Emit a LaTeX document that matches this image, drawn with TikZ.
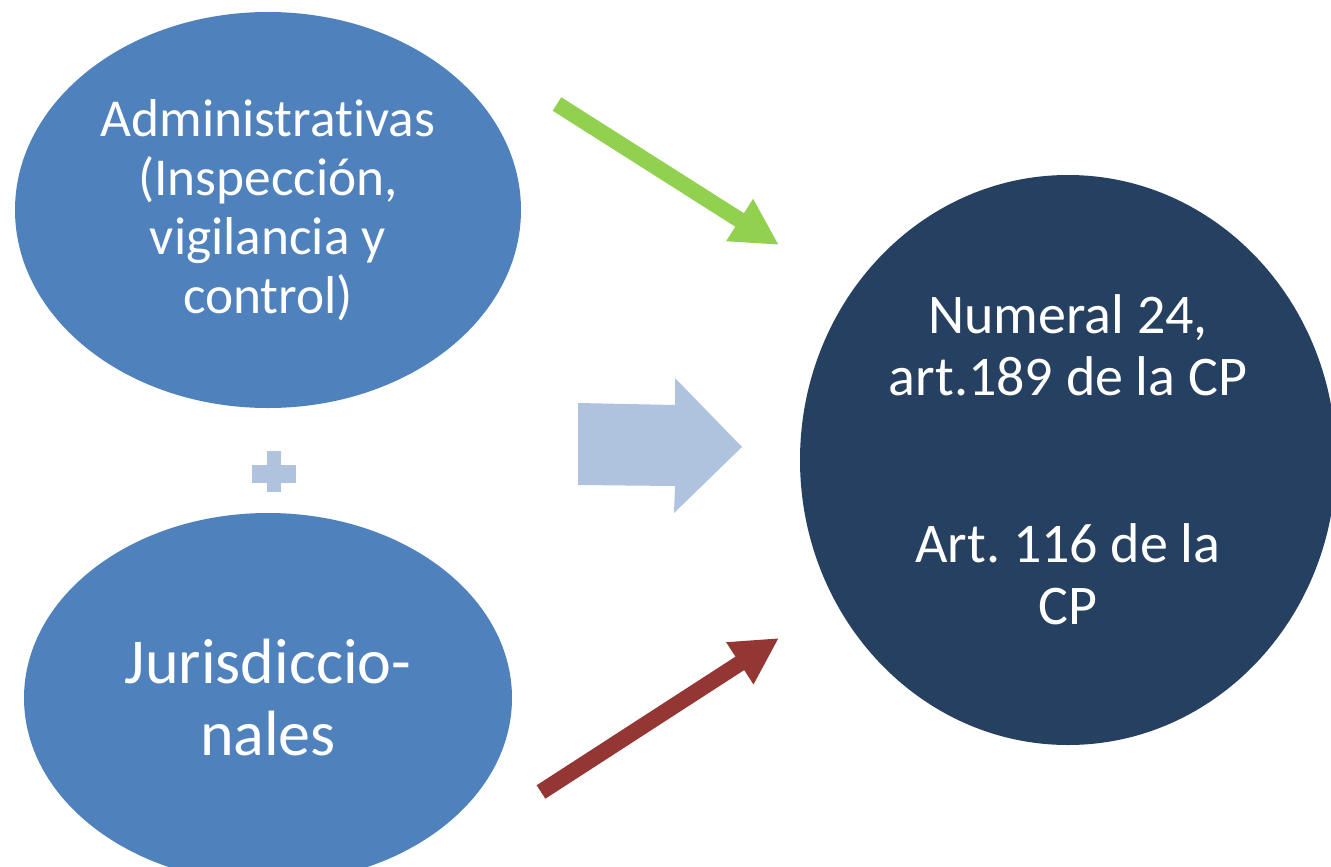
\documentclass[tikz,border=0pt]{standalone}
\usepackage{fontspec}
\setmainfont[Ligatures=NoCommon]{Carlito}
\frenchspacing
\usetikzlibrary{shapes.geometric,arrows.meta}
\definecolor{ellblue}{HTML}{4F81BD}
\definecolor{darknavy}{HTML}{264061}
\definecolor{lightblue}{HTML}{B0C3DE}
\definecolor{arrgreen}{HTML}{92D050}
\definecolor{arrred}{HTML}{943634}
\begin{document}
\begin{tikzpicture}[x=0.75pt,y=-0.75pt,
  bubble/.style={ellipse, fill=ellblue, text=white, inner sep=0pt, align=center},
  bigcircle/.style={ellipse, fill=darknavy, text=white, inner sep=0pt, align=center},
  thinarrow/.style={line width=12pt, -{Triangle[width=35pt,length=35pt]}},
  lightshape/.style={fill=lightblue, draw=none}]
\useasboundingbox (0,0) rectangle (1331,867);

\node[bubble, minimum width=379.5pt, minimum height=297pt,
      font=\fontsize{40}{44.25}\selectfont] (adm) at (268,210)
  {Administrativas\\(Inspección,\\vigilancia y\\control)};

\node[bubble, minimum width=366pt, minimum height=277.5pt,
      font=\fontsize{48}{54}\selectfont] (jur) at (268,698)
  {Jurisdiccio-\\nales};

\node[bigcircle, minimum width=402pt, minimum height=427.5pt,
      font=\fontsize{42}{46.5}\selectfont] (cp) at (1068,460)
  {Numeral 24,\\art.189 de la CP\\[79pt]Art. 116 de la\\CP};

% plus sign
\fill[lightshape] (252,465) rectangle (296,483);
\fill[lightshape] (267,451) rectangle (281,492);

% block arrow
\fill[lightshape] (578,403) -- (675,405) -- (675,378) -- (742,447)
  -- (674,513) -- (675,486) -- (578,485) -- cycle;

% green and red arrows
\coordinate (gs) at (557,104);
\coordinate (ge) at (779,245);
\draw[thinarrow, arrgreen] (gs) -- (ge);

\coordinate (rs) at (541,792);
\coordinate (re) at (779,638);
\draw[thinarrow, arrred] (rs) -- (re);
\end{tikzpicture}
\end{document}
